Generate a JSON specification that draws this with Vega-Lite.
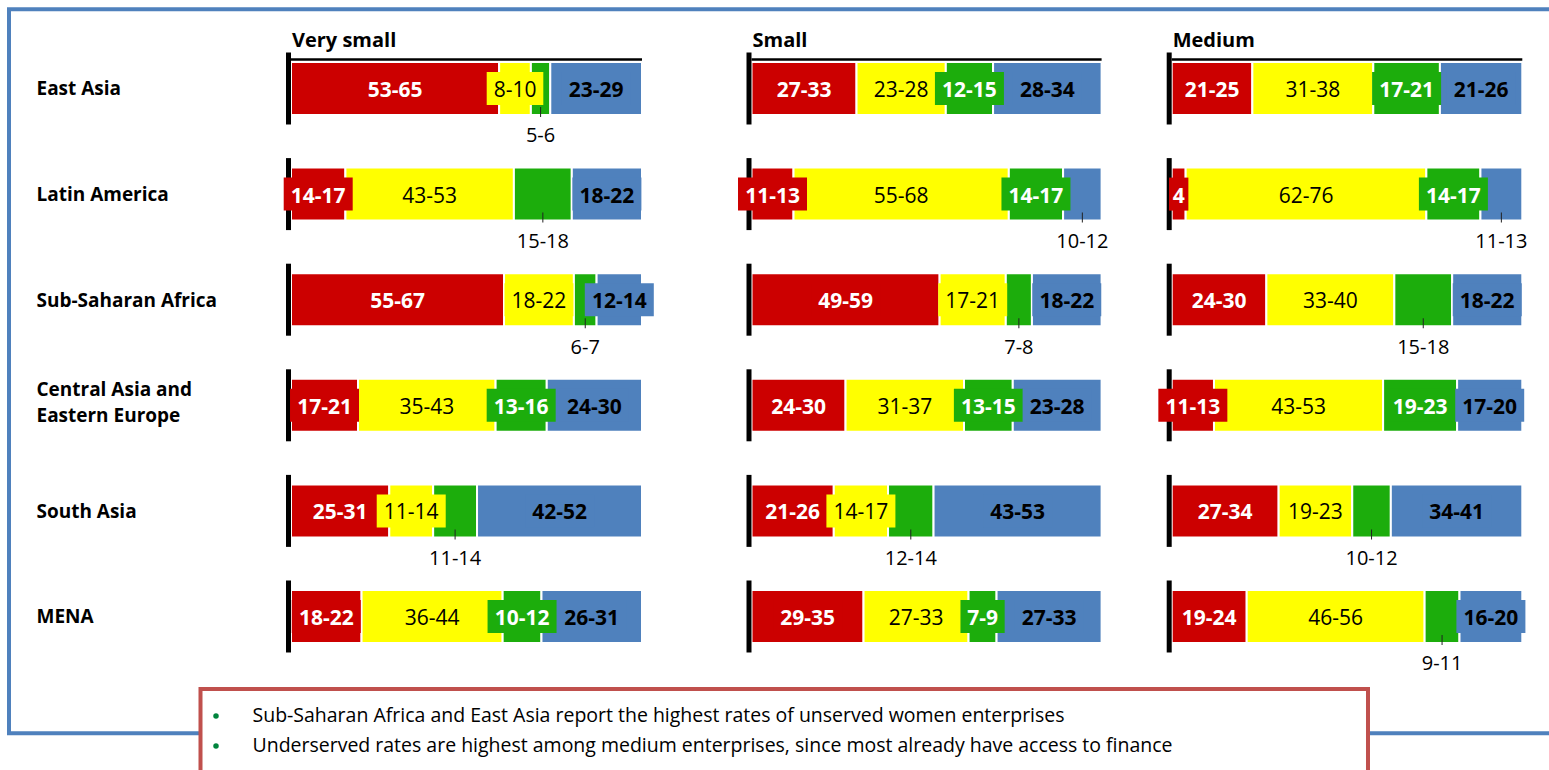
{
  "$schema": "https://vega.github.io/schema/vega-lite/v6.json",
  "background": "white",
  "padding": {"left": 9, "top": 9.3, "right": 0, "bottom": 0},
  "config": {"font": "Open Sans", "axis": {"grid": false}},
  "width": 1543,
  "height": 724,
  "view": {"stroke": "#4F81BD", "strokeWidth": 4, "fill": "white"},
  "datasets": {
    "shares": [
      {"panel": "Very small", "region": "East Asia", "segment": "Unserved", "seq": 1, "range": "53-65", "share": 59, "callout": false},
      {"panel": "Very small", "region": "East Asia", "segment": "Underserved", "seq": 2, "range": "8-10", "share": 9, "callout": false},
      {"panel": "Very small", "region": "East Asia", "segment": "Well served", "seq": 3, "range": "5-6", "share": 5.5, "callout": true},
      {"panel": "Very small", "region": "East Asia", "segment": "No need", "seq": 4, "range": "23-29", "share": 26, "callout": false},
      {"panel": "Very small", "region": "Latin America", "segment": "Unserved", "seq": 1, "range": "14-17", "share": 15.5, "callout": false},
      {"panel": "Very small", "region": "Latin America", "segment": "Underserved", "seq": 2, "range": "43-53", "share": 48, "callout": false},
      {"panel": "Very small", "region": "Latin America", "segment": "Well served", "seq": 3, "range": "15-18", "share": 16.5, "callout": true},
      {"panel": "Very small", "region": "Latin America", "segment": "No need", "seq": 4, "range": "18-22", "share": 20, "callout": false},
      {"panel": "Very small", "region": "Sub-Saharan Africa", "segment": "Unserved", "seq": 1, "range": "55-67", "share": 61, "callout": false},
      {"panel": "Very small", "region": "Sub-Saharan Africa", "segment": "Underserved", "seq": 2, "range": "18-22", "share": 20, "callout": false},
      {"panel": "Very small", "region": "Sub-Saharan Africa", "segment": "Well served", "seq": 3, "range": "6-7", "share": 6.5, "callout": true},
      {"panel": "Very small", "region": "Sub-Saharan Africa", "segment": "No need", "seq": 4, "range": "12-14", "share": 13, "callout": false},
      {"panel": "Very small", "region": "Central Asia and Eastern Europe", "segment": "Unserved", "seq": 1, "range": "17-21", "share": 19, "callout": false},
      {"panel": "Very small", "region": "Central Asia and Eastern Europe", "segment": "Underserved", "seq": 2, "range": "35-43", "share": 39, "callout": false},
      {"panel": "Very small", "region": "Central Asia and Eastern Europe", "segment": "Well served", "seq": 3, "range": "13-16", "share": 14.5, "callout": false},
      {"panel": "Very small", "region": "Central Asia and Eastern Europe", "segment": "No need", "seq": 4, "range": "24-30", "share": 27, "callout": false},
      {"panel": "Very small", "region": "South Asia", "segment": "Unserved", "seq": 1, "range": "25-31", "share": 28, "callout": false},
      {"panel": "Very small", "region": "South Asia", "segment": "Underserved", "seq": 2, "range": "11-14", "share": 12.5, "callout": false},
      {"panel": "Very small", "region": "South Asia", "segment": "Well served", "seq": 3, "range": "11-14", "share": 12.5, "callout": true},
      {"panel": "Very small", "region": "South Asia", "segment": "No need", "seq": 4, "range": "42-52", "share": 47, "callout": false},
      {"panel": "Very small", "region": "MENA", "segment": "Unserved", "seq": 1, "range": "18-22", "share": 20, "callout": false},
      {"panel": "Very small", "region": "MENA", "segment": "Underserved", "seq": 2, "range": "36-44", "share": 40, "callout": false},
      {"panel": "Very small", "region": "MENA", "segment": "Well served", "seq": 3, "range": "10-12", "share": 11, "callout": false},
      {"panel": "Very small", "region": "MENA", "segment": "No need", "seq": 4, "range": "26-31", "share": 28.5, "callout": false},

      {"panel": "Small", "region": "East Asia", "segment": "Unserved", "seq": 1, "range": "27-33", "share": 30, "callout": false},
      {"panel": "Small", "region": "East Asia", "segment": "Underserved", "seq": 2, "range": "23-28", "share": 25.5, "callout": false},
      {"panel": "Small", "region": "East Asia", "segment": "Well served", "seq": 3, "range": "12-15", "share": 13.5, "callout": false},
      {"panel": "Small", "region": "East Asia", "segment": "No need", "seq": 4, "range": "28-34", "share": 31, "callout": false},
      {"panel": "Small", "region": "Latin America", "segment": "Unserved", "seq": 1, "range": "11-13", "share": 12, "callout": false},
      {"panel": "Small", "region": "Latin America", "segment": "Underserved", "seq": 2, "range": "55-68", "share": 61.5, "callout": false},
      {"panel": "Small", "region": "Latin America", "segment": "Well served", "seq": 3, "range": "14-17", "share": 15.5, "callout": false},
      {"panel": "Small", "region": "Latin America", "segment": "No need", "seq": 4, "range": "10-12", "share": 11, "callout": true},
      {"panel": "Small", "region": "Sub-Saharan Africa", "segment": "Unserved", "seq": 1, "range": "49-59", "share": 54, "callout": false},
      {"panel": "Small", "region": "Sub-Saharan Africa", "segment": "Underserved", "seq": 2, "range": "17-21", "share": 19, "callout": false},
      {"panel": "Small", "region": "Sub-Saharan Africa", "segment": "Well served", "seq": 3, "range": "7-8", "share": 7.5, "callout": true},
      {"panel": "Small", "region": "Sub-Saharan Africa", "segment": "No need", "seq": 4, "range": "18-22", "share": 20, "callout": false},
      {"panel": "Small", "region": "Central Asia and Eastern Europe", "segment": "Unserved", "seq": 1, "range": "24-30", "share": 27, "callout": false},
      {"panel": "Small", "region": "Central Asia and Eastern Europe", "segment": "Underserved", "seq": 2, "range": "31-37", "share": 34, "callout": false},
      {"panel": "Small", "region": "Central Asia and Eastern Europe", "segment": "Well served", "seq": 3, "range": "13-15", "share": 14, "callout": false},
      {"panel": "Small", "region": "Central Asia and Eastern Europe", "segment": "No need", "seq": 4, "range": "23-28", "share": 25.5, "callout": false},
      {"panel": "Small", "region": "South Asia", "segment": "Unserved", "seq": 1, "range": "21-26", "share": 23.5, "callout": false},
      {"panel": "Small", "region": "South Asia", "segment": "Underserved", "seq": 2, "range": "14-17", "share": 15.5, "callout": false},
      {"panel": "Small", "region": "South Asia", "segment": "Well served", "seq": 3, "range": "12-14", "share": 13, "callout": true},
      {"panel": "Small", "region": "South Asia", "segment": "No need", "seq": 4, "range": "43-53", "share": 48, "callout": false},
      {"panel": "Small", "region": "MENA", "segment": "Unserved", "seq": 1, "range": "29-35", "share": 32, "callout": false},
      {"panel": "Small", "region": "MENA", "segment": "Underserved", "seq": 2, "range": "27-33", "share": 30, "callout": false},
      {"panel": "Small", "region": "MENA", "segment": "Well served", "seq": 3, "range": "7-9", "share": 8, "callout": false},
      {"panel": "Small", "region": "MENA", "segment": "No need", "seq": 4, "range": "27-33", "share": 30, "callout": false},

      {"panel": "Medium", "region": "East Asia", "segment": "Unserved", "seq": 1, "range": "21-25", "share": 23, "callout": false},
      {"panel": "Medium", "region": "East Asia", "segment": "Underserved", "seq": 2, "range": "31-38", "share": 34.5, "callout": false},
      {"panel": "Medium", "region": "East Asia", "segment": "Well served", "seq": 3, "range": "17-21", "share": 19, "callout": false},
      {"panel": "Medium", "region": "East Asia", "segment": "No need", "seq": 4, "range": "21-26", "share": 23.5, "callout": false},
      {"panel": "Medium", "region": "Latin America", "segment": "Unserved", "seq": 1, "range": "4", "share": 4, "callout": false},
      {"panel": "Medium", "region": "Latin America", "segment": "Underserved", "seq": 2, "range": "62-76", "share": 69, "callout": false},
      {"panel": "Medium", "region": "Latin America", "segment": "Well served", "seq": 3, "range": "14-17", "share": 15.5, "callout": false},
      {"panel": "Medium", "region": "Latin America", "segment": "No need", "seq": 4, "range": "11-13", "share": 12, "callout": true},
      {"panel": "Medium", "region": "Sub-Saharan Africa", "segment": "Unserved", "seq": 1, "range": "24-30", "share": 27, "callout": false},
      {"panel": "Medium", "region": "Sub-Saharan Africa", "segment": "Underserved", "seq": 2, "range": "33-40", "share": 36.5, "callout": false},
      {"panel": "Medium", "region": "Sub-Saharan Africa", "segment": "Well served", "seq": 3, "range": "15-18", "share": 16.5, "callout": true},
      {"panel": "Medium", "region": "Sub-Saharan Africa", "segment": "No need", "seq": 4, "range": "18-22", "share": 20, "callout": false},
      {"panel": "Medium", "region": "Central Asia and Eastern Europe", "segment": "Unserved", "seq": 1, "range": "11-13", "share": 12, "callout": false},
      {"panel": "Medium", "region": "Central Asia and Eastern Europe", "segment": "Underserved", "seq": 2, "range": "43-53", "share": 48, "callout": false},
      {"panel": "Medium", "region": "Central Asia and Eastern Europe", "segment": "Well served", "seq": 3, "range": "19-23", "share": 21, "callout": false},
      {"panel": "Medium", "region": "Central Asia and Eastern Europe", "segment": "No need", "seq": 4, "range": "17-20", "share": 18.5, "callout": false},
      {"panel": "Medium", "region": "South Asia", "segment": "Unserved", "seq": 1, "range": "27-34", "share": 30.5, "callout": false},
      {"panel": "Medium", "region": "South Asia", "segment": "Underserved", "seq": 2, "range": "19-23", "share": 21, "callout": false},
      {"panel": "Medium", "region": "South Asia", "segment": "Well served", "seq": 3, "range": "10-12", "share": 11, "callout": true},
      {"panel": "Medium", "region": "South Asia", "segment": "No need", "seq": 4, "range": "34-41", "share": 37.5, "callout": false},
      {"panel": "Medium", "region": "MENA", "segment": "Unserved", "seq": 1, "range": "19-24", "share": 21.5, "callout": false},
      {"panel": "Medium", "region": "MENA", "segment": "Underserved", "seq": 2, "range": "46-56", "share": 51, "callout": false},
      {"panel": "Medium", "region": "MENA", "segment": "Well served", "seq": 3, "range": "9-11", "share": 10, "callout": true},
      {"panel": "Medium", "region": "MENA", "segment": "No need", "seq": 4, "range": "16-20", "share": 18, "callout": false}
    ],
    "notes": [
      {"line": 1, "note": "Sub-Saharan Africa and East Asia report the highest rates of unserved women enterprises"},
      {"line": 2, "note": "Underserved rates are highest among medium enterprises, since most already have access to finance"}
    ]
  },
  "resolve": {"scale": {"x": "independent", "y": "independent"}},
  "layer": [
    {
      "data": {"name": "shares"},
      "transform": [
        {"stack": "share", "groupby": ["panel", "region"], "sort": [{"field": "seq", "order": "ascending"}], "offset": "normalize", "as": ["x0", "x1"]},
        {"calculate": "(datum.x0 + datum.x1) / 2", "as": "xm"},
        {"calculate": "6.2 * length(datum.range) + 3.5", "as": "hw"},
        {"calculate": "'M' + (-datum.hw) + ',-16.5H' + datum.hw + 'V16.5H' + (-datum.hw) + 'Z'", "as": "boxPath"}
      ],
      "encoding": {
        "y": {
          "field": "region",
          "type": "nominal",
          "sort": ["East Asia", "Latin America", "Sub-Saharan Africa", "Central Asia and Eastern Europe", "South Asia", "MENA"],
          "scale": {"paddingInner": 0.4981, "paddingOuter": 0.6771, "align": 0.3685},
          "axis": {
            "title": null, "domain": false, "ticks": false, "tickSize": 0, "labelPadding": 0, "offset": -27,
            "labelAlign": "left", "labelBaseline": "middle", "labelFontSize": 19, "labelFontWeight": "bold",
            "labelColor": "black", "labelLimit": 400, "labelLineHeight": 26, "labelOverlap": false, "labelBound": false,
            "labelOffset": {"condition": {"test": "datum.value === 'Central Asia and Eastern Europe'", "value": -15}, "value": 1},
            "labelExpr": "datum.value === 'Central Asia and Eastern Europe' ? ['Central Asia and', 'Eastern Europe'] : datum.label"
          }
        }
      },
      "resolve": {"scale": {"x": "independent"}},
      "layer": [
        {
          "transform": [{"filter": "datum.panel === 'Very small'"}],
          "layer": [
            {"mark": {"type": "bar", "stroke": "white", "strokeWidth": 2},
             "encoding": {
               "x": {"field": "x0", "type": "quantitative", "scale": {"domain": [0, 1], "range": [282, 633]}, "axis": null},
               "x2": {"field": "x1"},
               "color": {"field": "segment", "type": "nominal", "scale": {"domain": ["Unserved", "Underserved", "Well served", "No need"], "range": ["#CC0000", "#FFFF00", "#1CAD0C", "#4F81BD"]}, "legend": null}
             }},
            {"transform": [{"filter": "datum.seq === 1"}],
             "mark": {"type": "tick", "orient": "vertical", "size": 72, "thickness": 5, "color": "black", "opacity": 1, "xOffset": -2.5},
             "encoding": {"x": {"datum": 0, "type": "quantitative", "axis": null}}},
            {"transform": [{"filter": "datum.seq === 1 && datum.region === 'East Asia'"}],
             "mark": {"type": "rule", "color": "black", "strokeWidth": 2.5, "yOffset": -29},
             "encoding": {"x": {"datum": 0, "type": "quantitative", "axis": null}, "x2": {"datum": 1}}},
            {"transform": [{"filter": "datum.seq === 1 && datum.region === 'East Asia'"}],
             "mark": {"type": "text", "align": "left", "baseline": "alphabetic", "fontSize": 20, "fontWeight": "bold", "color": "black", "dx": 1, "dy": -41.5},
             "encoding": {"x": {"datum": 0, "type": "quantitative", "axis": null}, "text": {"field": "panel"}}},
            {"transform": [{"filter": "!datum.callout"}],
             "mark": {"type": "point", "filled": true, "opacity": 1, "size": 4, "strokeWidth": 0},
             "encoding": {"x": {"field": "xm", "type": "quantitative", "axis": null}, "shape": {"field": "boxPath", "type": "nominal", "scale": null, "legend": null}, "color": {"field": "segment", "type": "nominal", "legend": null}}},
            {"transform": [{"filter": "!datum.callout && datum.seq !== 2"}],
             "mark": {"type": "text", "baseline": "middle", "fontSize": 21, "fontWeight": "bold", "dy": 2.5},
             "encoding": {"x": {"field": "xm", "type": "quantitative", "axis": null}, "text": {"field": "range"}, "color": {"condition": {"test": "datum.seq === 4", "value": "black"}, "value": "white"}}},
            {"transform": [{"filter": "!datum.callout && datum.seq === 2"}],
             "mark": {"type": "text", "baseline": "middle", "fontSize": 21, "color": "black", "dy": 2.5},
             "encoding": {"x": {"field": "xm", "type": "quantitative", "axis": null}, "text": {"field": "range"}}},
            {"transform": [{"filter": "datum.callout"}],
             "mark": {"type": "tick", "orient": "vertical", "size": 10, "thickness": 1, "color": "#222222", "opacity": 1, "yOffset": 23.5},
             "encoding": {"x": {"field": "xm", "type": "quantitative", "axis": null}}},
            {"transform": [{"filter": "datum.callout"}],
             "mark": {"type": "text", "baseline": "middle", "fontSize": 20, "color": "black", "dy": 48},
             "encoding": {"x": {"field": "xm", "type": "quantitative", "axis": null}, "text": {"field": "range"}}}
          ]
        },
        {
          "transform": [{"filter": "datum.panel === 'Small'"}],
          "layer": [
            {"mark": {"type": "bar", "stroke": "white", "strokeWidth": 2},
             "encoding": {
               "x": {"field": "x0", "type": "quantitative", "scale": {"domain": [0, 1], "range": [742.5, 1092.6]}, "axis": null},
               "x2": {"field": "x1"},
               "color": {"field": "segment", "type": "nominal", "scale": {"domain": ["Unserved", "Underserved", "Well served", "No need"], "range": ["#CC0000", "#FFFF00", "#1CAD0C", "#4F81BD"]}, "legend": null}
             }},
            {"transform": [{"filter": "datum.seq === 1"}],
             "mark": {"type": "tick", "orient": "vertical", "size": 72, "thickness": 5, "color": "black", "opacity": 1, "xOffset": -2.5},
             "encoding": {"x": {"datum": 0, "type": "quantitative", "axis": null}}},
            {"transform": [{"filter": "datum.seq === 1 && datum.region === 'East Asia'"}],
             "mark": {"type": "rule", "color": "black", "strokeWidth": 2.5, "yOffset": -29},
             "encoding": {"x": {"datum": 0, "type": "quantitative", "axis": null}, "x2": {"datum": 1}}},
            {"transform": [{"filter": "datum.seq === 1 && datum.region === 'East Asia'"}],
             "mark": {"type": "text", "align": "left", "baseline": "alphabetic", "fontSize": 20, "fontWeight": "bold", "color": "black", "dx": 1, "dy": -41.5},
             "encoding": {"x": {"datum": 0, "type": "quantitative", "axis": null}, "text": {"field": "panel"}}},
            {"transform": [{"filter": "!datum.callout"}],
             "mark": {"type": "point", "filled": true, "opacity": 1, "size": 4, "strokeWidth": 0},
             "encoding": {"x": {"field": "xm", "type": "quantitative", "axis": null}, "shape": {"field": "boxPath", "type": "nominal", "scale": null, "legend": null}, "color": {"field": "segment", "type": "nominal", "legend": null}}},
            {"transform": [{"filter": "!datum.callout && datum.seq !== 2"}],
             "mark": {"type": "text", "baseline": "middle", "fontSize": 21, "fontWeight": "bold", "dy": 2.5},
             "encoding": {"x": {"field": "xm", "type": "quantitative", "axis": null}, "text": {"field": "range"}, "color": {"condition": {"test": "datum.seq === 4", "value": "black"}, "value": "white"}}},
            {"transform": [{"filter": "!datum.callout && datum.seq === 2"}],
             "mark": {"type": "text", "baseline": "middle", "fontSize": 21, "color": "black", "dy": 2.5},
             "encoding": {"x": {"field": "xm", "type": "quantitative", "axis": null}, "text": {"field": "range"}}},
            {"transform": [{"filter": "datum.callout"}],
             "mark": {"type": "tick", "orient": "vertical", "size": 10, "thickness": 1, "color": "#222222", "opacity": 1, "yOffset": 23.5},
             "encoding": {"x": {"field": "xm", "type": "quantitative", "axis": null}}},
            {"transform": [{"filter": "datum.callout"}],
             "mark": {"type": "text", "baseline": "middle", "fontSize": 20, "color": "black", "dy": 48},
             "encoding": {"x": {"field": "xm", "type": "quantitative", "axis": null}, "text": {"field": "range"}}}
          ]
        },
        {
          "transform": [{"filter": "datum.panel === 'Medium'"}],
          "layer": [
            {"mark": {"type": "bar", "stroke": "white", "strokeWidth": 2},
             "encoding": {
               "x": {"field": "x0", "type": "quantitative", "scale": {"domain": [0, 1], "range": [1162.7, 1513.3]}, "axis": null},
               "x2": {"field": "x1"},
               "color": {"field": "segment", "type": "nominal", "scale": {"domain": ["Unserved", "Underserved", "Well served", "No need"], "range": ["#CC0000", "#FFFF00", "#1CAD0C", "#4F81BD"]}, "legend": null}
             }},
            {"transform": [{"filter": "datum.seq === 1"}],
             "mark": {"type": "tick", "orient": "vertical", "size": 72, "thickness": 5, "color": "black", "opacity": 1, "xOffset": -2.5},
             "encoding": {"x": {"datum": 0, "type": "quantitative", "axis": null}}},
            {"transform": [{"filter": "datum.seq === 1 && datum.region === 'East Asia'"}],
             "mark": {"type": "rule", "color": "black", "strokeWidth": 2.5, "yOffset": -29},
             "encoding": {"x": {"datum": 0, "type": "quantitative", "axis": null}, "x2": {"datum": 1}}},
            {"transform": [{"filter": "datum.seq === 1 && datum.region === 'East Asia'"}],
             "mark": {"type": "text", "align": "left", "baseline": "alphabetic", "fontSize": 20, "fontWeight": "bold", "color": "black", "dx": 1, "dy": -41.5},
             "encoding": {"x": {"datum": 0, "type": "quantitative", "axis": null}, "text": {"field": "panel"}}},
            {"transform": [{"filter": "!datum.callout"}],
             "mark": {"type": "point", "filled": true, "opacity": 1, "size": 4, "strokeWidth": 0},
             "encoding": {"x": {"field": "xm", "type": "quantitative", "axis": null}, "shape": {"field": "boxPath", "type": "nominal", "scale": null, "legend": null}, "color": {"field": "segment", "type": "nominal", "legend": null}}},
            {"transform": [{"filter": "!datum.callout && datum.seq !== 2"}],
             "mark": {"type": "text", "baseline": "middle", "fontSize": 21, "fontWeight": "bold", "dy": 2.5},
             "encoding": {"x": {"field": "xm", "type": "quantitative", "axis": null}, "text": {"field": "range"}, "color": {"condition": {"test": "datum.seq === 4", "value": "black"}, "value": "white"}}},
            {"transform": [{"filter": "!datum.callout && datum.seq === 2"}],
             "mark": {"type": "text", "baseline": "middle", "fontSize": 21, "color": "black", "dy": 2.5},
             "encoding": {"x": {"field": "xm", "type": "quantitative", "axis": null}, "text": {"field": "range"}}},
            {"transform": [{"filter": "datum.callout"}],
             "mark": {"type": "tick", "orient": "vertical", "size": 10, "thickness": 1, "color": "#222222", "opacity": 1, "yOffset": 23.5},
             "encoding": {"x": {"field": "xm", "type": "quantitative", "axis": null}}},
            {"transform": [{"filter": "datum.callout"}],
             "mark": {"type": "text", "baseline": "middle", "fontSize": 20, "color": "black", "dy": 48},
             "encoding": {"x": {"field": "xm", "type": "quantitative", "axis": null}, "text": {"field": "range"}}}
          ]
        }
      ]
    },
    {
      "data": {"name": "notes"},
      "encoding": {
        "x": {"datum": 0, "type": "quantitative", "scale": {"domain": [0, 1], "range": [191.5, 1359]}, "axis": null}
      },
      "resolve": {"scale": {"y": "independent"}},
      "layer": [
        {"transform": [{"filter": "datum.line === 1"}],
         "mark": {"type": "rect", "fill": "white", "stroke": "#C0504D", "strokeWidth": 4},
         "encoding": {
           "x2": {"datum": 1},
           "y": {"datum": 0, "type": "quantitative", "scale": {"domain": [0, 1], "range": [679.7, 790]}, "axis": null},
           "y2": {"datum": 1}
         }},
        {"encoding": {
           "y": {"field": "note", "type": "nominal", "sort": {"field": "line"}, "scale": {"range": [691.7, 751.7], "paddingInner": 0, "paddingOuter": 0}, "axis": null}
         },
         "layer": [
           {"mark": {"type": "circle", "size": 30, "color": "#00843D", "opacity": 1, "xOffset": 15.5}},
           {"mark": {"type": "text", "align": "left", "baseline": "middle", "fontSize": 19.5, "color": "black", "dx": 52},
            "encoding": {"text": {"field": "note"}}}
         ]}
      ]
    }
  ]
}
